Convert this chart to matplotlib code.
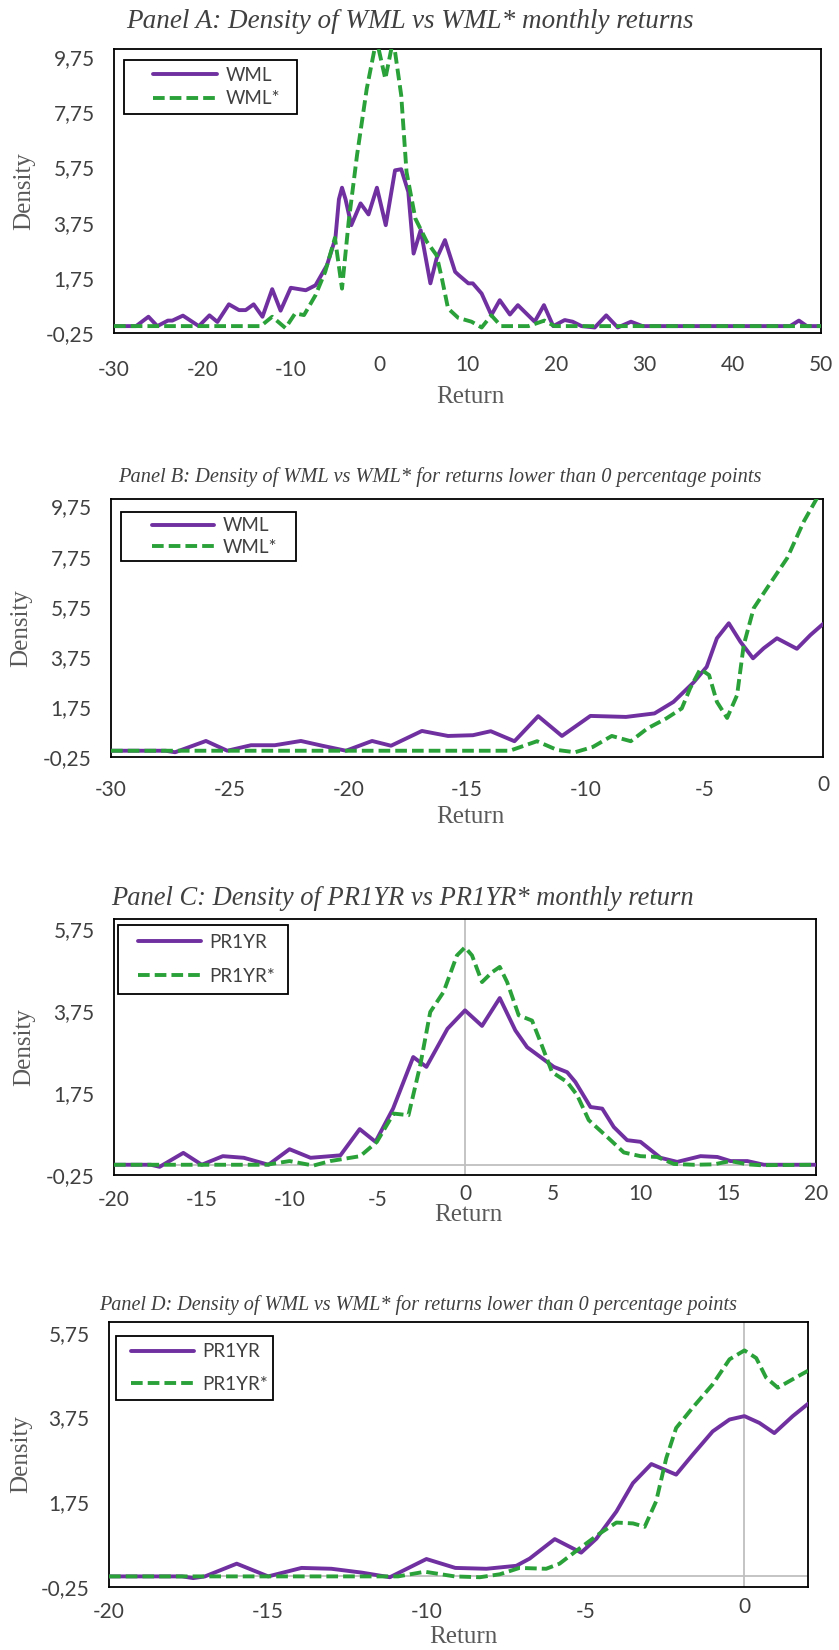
import matplotlib
matplotlib.use('Agg')
import matplotlib.pyplot as plt
from matplotlib.lines import Line2D
from matplotlib.legend_handler import HandlerLine2D
from matplotlib.transforms import ScaledTranslation

# ---------------- data ----------------
# Panel A: WML vs WML* monthly returns
a_wml_x = [-30, -27.5, -26.1, -25.1, -23.9, -23.4, -22.2, -20.4, -19.2, -18.3, -17.0, -15.85, -15.1,
           -14.2, -13.2, -12.1, -11.15, -10.0, -8.3, -7.2, -5.9, -4.95, -4.55, -4.2, -3.8, -3.15,
           -2.1, -1.2, -0.25, 0.75, 1.8, 2.5, 3.3, 3.9, 4.7, 5.8, 6.5, 7.45, 8.6, 9.0, 10.1, 10.6,
           11.6, 12.7, 13.65, 14.8, 15.7, 17.6, 18.65, 19.7, 21.0, 21.9, 22.9, 24.4, 25.7, 27.0,
           28.5, 29.8, 46.5, 47.5, 48.4, 50]
a_wml_y = [0, 0, 0.34, 0, 0.2, 0.2, 0.38, 0, 0.39, 0.15, 0.79, 0.58, 0.58,
           0.79, 0.34, 1.34, 0.56, 1.39, 1.30, 1.48, 2.21, 3.18, 4.6, 5.02, 4.6, 3.66,
           4.45, 4.05, 5.02, 3.66, 5.65, 5.69, 4.87, 2.63, 3.48, 1.55, 2.45, 3.12, 1.97, 1.85, 1.55, 1.55,
           1.18, 0.40, 0.94, 0.42, 0.76, 0.16, 0.76, 0, 0.22, 0.16, 0, -0.05, 0.39, -0.05,
           0.16, 0, 0, 0.2, 0, 0]
a_star_x = [-30, -13.4, -12.1, -10.6, -9.5, -8.5, -7.2, -6.1, -5.0, -4.2, -3.45, -2.5, -1.4, -0.3,
            0.7, 1.6, 2.5, 3.1, 4.1, 5.4, 6.5, 7.1, 7.8, 8.95, 10.45, 11.6, 12.7, 13.8, 16.9, 18.7,
            19.85, 50]
a_star_y = [0, 0, 0.34, -0.07, 0.46, 0.40, 1.12, 1.97, 3.2, 1.36, 3.78, 6.2, 8.61, 10.4,
            8.97, 10.4, 8.37, 5.59, 3.9, 3.06, 2.57, 1.73, 0.64, 0.3, 0.16, -0.05, 0.39, 0, 0, 0.2,
            0, 0]

# Panel B: WML vs WML*, returns below 0
b_wml_x = [-30, -27.7, -27.3, -26.0, -25.1, -24.1, -23.1, -22.0, -21.1, -20.1, -19.0, -18.2, -16.9,
           -15.8, -14.75, -14.0, -13.0, -12.0, -11.0, -9.8, -8.3, -7.1, -6.3, -5.45, -4.9, -4.47,
           -3.97, -3.48, -2.95, -2.5, -1.94, -1.1, -0.53, 0]
b_wml_y = [0, 0, -0.06, 0.39, 0, 0.22, 0.22, 0.39, 0.2, 0, 0.39, 0.2, 0.79,
           0.59, 0.62, 0.78, 0.38, 1.38, 0.59, 1.39, 1.35, 1.49, 1.95, 2.73, 3.35, 4.49,
           5.09, 4.35, 3.69, 4.09, 4.49, 4.07, 4.62, 5.06]
b_star_x = [-30, -13.2, -12.05, -11.2, -10.45, -9.7, -8.9, -8.1, -7.4, -6.6, -5.95, -5.6, -5.17,
            -4.8, -4.47, -4.04, -3.62, -3.34, -2.92, -2.36, -1.51, -0.81, -0.25, 0]
b_star_y = [0, 0, 0.38, 0.03, -0.06, 0.15, 0.59, 0.38, 0.89, 1.29, 1.69, 2.49, 3.26,
            3.02, 1.95, 1.31, 2.22, 4.22, 5.69, 6.49, 7.69, 9.15, 10.09, 10.5]

# Panel C: PR1YR vs PR1YR* monthly return
c_pr_x = [-20, -17.9, -17.4, -16.05, -15.0, -13.8, -12.6, -11.2, -10.0, -8.8, -7.1, -6.0, -5.1,
          -4.1, -2.95, -2.2, -1.0, 0, 0.97, 1.98, 2.87, 3.54, 4.3, 5.06, 5.82, 6.29, 7.15, 7.82,
          8.48, 9.24, 10.0, 11.14, 12.09, 13.42, 14.38, 15.13, 16.09, 17.03, 20]
c_pr_y = [0, 0, -0.05, 0.29, 0, 0.21, 0.17, 0, 0.38, 0.17, 0.23, 0.87, 0.56,
          1.37, 2.63, 2.39, 3.32, 3.77, 3.39, 4.07, 3.28, 2.87, 2.63, 2.39, 2.26, 2.02, 1.41, 1.37,
          0.92, 0.6, 0.56, 0.17, 0.07, 0.21, 0.19, 0.09, 0.09, 0, 0]
c_star_x = [-20, -11.3, -10.0, -8.64, -7.68, -5.97, -5.02, -4.07, -3.22, -2.55, -1.98, -1.22, -0.46,
            0, 0.4, 0.97, 1.54, 1.98, 2.4, 3.06, 3.82, 4.3, 4.96, 5.82, 6.39, 7.05, 8.1, 9.05, 10.0,
            10.95, 11.9, 13.04, 14.18, 15.13, 16.09, 16.8, 20]
c_star_y = [0, 0, 0.09, -0.02, 0.09, 0.21, 0.56, 1.25, 1.21, 2.43, 3.73, 4.22, 5.11,
            5.31, 5.11, 4.46, 4.7, 4.83, 4.46, 3.65, 3.52, 3.0, 2.26, 2.02, 1.7, 1.09, 0.68, 0.3, 0.21,
            0.19, 0.02, 0, 0.01, 0.09, 0.01, -0.01, 0]

# Panel D: PR1YR vs PR1YR*, returns below 0
d_pr_x = [-20, -17.7, -17.35, -16.98, -15.98, -14.99, -13.94, -13.0, -12.05, -11.16, -10.01, -9.1,
          -8.12, -7.18, -6.76, -5.97, -5.14, -4.66, -4.03, -3.51, -2.93, -2.15, -1.63, -1.0, -0.47,
          0, 0.47, 0.94, 1.52, 2.0]
d_pr_y = [0, 0, -0.04, 0, 0.30, 0, 0.2, 0.18, 0.09, -0.02, 0.41, 0.2,
          0.18, 0.25, 0.42, 0.88, 0.56, 0.89, 1.53, 2.2, 2.65, 2.4, 2.87, 3.42, 3.7,
          3.78, 3.62, 3.38, 3.78, 4.07]
d_star_x = [-20, -10.9, -10.06, -9.12, -8.33, -7.7, -7.08, -6.24, -5.82, -5.19, -4.56, -4.03, -3.51,
            -3.14, -2.78, -2.46, -2.15, -1.63, -1.0, -0.47, 0, 0.37, 0.68, 1.05, 1.52, 2.0]
d_star_y = [0, 0, 0.11, 0, -0.02, 0.05, 0.2, 0.18, 0.30, 0.66, 1.01, 1.27, 1.25,
            1.17, 1.77, 2.79, 3.5, 3.98, 4.53, 5.12, 5.33, 5.15, 4.69, 4.45, 4.65, 4.85]

titles = ['Panel A: Density of WML vs WML* monthly returns',
          'Panel B: Density of WML vs WML* for returns lower than 0 percentage points',
          'Panel C: Density of PR1YR vs PR1YR* monthly return',
          'Panel D: Density of WML vs WML* for returns lower than 0 percentage points']
yticks_wml = [-0.25, 1.75, 3.75, 5.75, 7.75, 9.75]
yticks_pr = [-0.25, 1.75, 3.75, 5.75]

PURPLE = '#7030A0'
GREEN = '#2BA13A'
GREY_TXT = '#595959'
DARK_TXT = '#404040'
W, H = 839, 1650

fig = plt.figure(figsize=(W / 100, H / 100), dpi=100)


class PadLine(HandlerLine2D):
    # legend line that starts a bit right of the frame
    def __init__(self, pad, **kw):
        super().__init__(**kw)
        self.pad = pad

    def create_artists(self, legend, orig_handle, xdescent, ydescent, width, height, fontsize, trans):
        p = self.pad * fontsize
        return super().create_artists(legend, orig_handle, xdescent - p, ydescent,
                                      width - p, height, fontsize, trans)


def panel(box, xs, ys, labels, xlim, xticks, ylim, yticks, title, tfs, tpos, ylab_x, ret_pos,
          xpad, negshift, leg, zero_lines=False):
    l, t, r, b = box
    ax = fig.add_axes([l / W, 1 - b / H, (r - l) / W, (b - t) / H])
    if zero_lines:
        ax.axhline(0, color='#BFBFBF', lw=1.3, zorder=1)
        ax.axvline(0, color='#BFBFBF', lw=1.3, zorder=1)
    h1, = ax.plot(xs[0], ys[0], color=PURPLE, lw=2.8, solid_joinstyle='round',
                  solid_capstyle='round', label=labels[0], zorder=3)
    h2, = ax.plot(xs[1], ys[1], color=GREEN, lw=2.8, dashes=(3, 1.3), label=labels[1], zorder=4)
    ax.set_xlim(*xlim)
    ax.set_ylim(*ylim)
    for s in ax.spines.values():
        s.set_color('black')
        s.set_linewidth(1.3)
    ax.tick_params(length=0, labelsize=15, labelcolor=DARK_TXT)
    ax.tick_params(axis='x', pad=xpad)
    ax.tick_params(axis='y', pad=14)
    ax.set_xticks(xticks, labels=[str(v) for v in xticks])
    ax.set_yticks(yticks, labels=[f'{v:.2f}'.replace('.', ',') for v in yticks])
    for lab in ax.get_xticklabels() + ax.get_yticklabels():
        lab.set_fontfamily(['Lato', 'DejaVu Sans'])
    off = ScaledTranslation(0, -negshift / 100, fig.dpi_scale_trans)
    for lab in ax.get_xticklabels():
        if lab.get_text().startswith('-'):
            lab.set_transform(lab.get_transform() + off)

    # legend: (left px, top px, right px, handlelength, pad, labelspacing, borderpad, fontsize)
    ll, lt, lr, hl, hp, lsp, bp, lfs = leg
    bx = (ll - l) / (r - l)
    by = 1 - (lt - t) / (b - t)
    lg = ax.legend(handles=[h1, h2], loc='upper left', bbox_to_anchor=(bx, by - 0.5, (lr - ll) / (r - l), 0.5),
                   mode='expand', borderaxespad=0, fancybox=False, framealpha=1, edgecolor='black',
                   prop={'family': ['Lato', 'DejaVu Sans'], 'size': lfs}, labelcolor=DARK_TXT,
                   handlelength=hl, handletextpad=0.45, labelspacing=lsp, borderpad=bp,
                   handler_map={Line2D: PadLine(hp)})
    lg.get_frame().set_linewidth(1.3)

    fig.text(tpos[0] / W, 1 - tpos[1] / H, title, ha='center', va='center', fontsize=tfs,
             family='Liberation Serif', style='italic', color=DARK_TXT)
    fig.text(ylab_x / W, 1 - (t + b) / 2 / H, 'Density', rotation=90, ha='center', va='center',
             fontsize=18, family='Liberation Serif', color=GREY_TXT)
    fig.text(ret_pos[0] / W, 1 - ret_pos[1] / H, 'Return', ha='center', va='center',
             fontsize=18, family='Liberation Serif', color=GREY_TXT)
    return ax


panel((114, 49, 821, 333), [a_wml_x, a_star_x], [a_wml_y, a_star_y], ['WML', 'WML*'],
      (-30, 50), list(range(-30, 51, 10)), (-0.25, 10.05), yticks_wml, titles[0], 19.5, (410, 22),
      24, (470, 397), 16, 5, (124, 60, 297, 4.6, 1.2, 0.35, 0.36, 13.5))
panel((111, 499, 823, 757), [b_wml_x, b_star_x], [b_wml_y, b_star_y], ['WML', 'WML*'],
      (-30, 0), list(range(-30, 1, 5)), (-0.25, 10.05), yticks_wml, titles[1], 14.7, (440, 477),
      21.5, (470, 817), 13.2, 5, (121, 512, 296, 4.7, 1.38, 0.26, 0.27, 13.5))
panel((114, 919, 816, 1175), [c_pr_x, c_star_x], [c_pr_y, c_star_y], ['PR1YR', 'PR1YR*'],
      (-20, 20), list(range(-20, 21, 5)), (-0.25, 6.0), yticks_pr, titles[2], 19.1, (402, 899),
      24, (468, 1215), 6.8, 6, (118, 925, 288, 3.95, 0.62, 0.91, 0.47, 13.5), zero_lines=True)
panel((109, 1322, 808, 1587), [d_pr_x, d_star_x], [d_pr_y, d_star_y], ['PR1YR', 'PR1YR*'],
      (-20, 2), list(range(-20, 1, 5)), (-0.25, 6.0), yticks_pr, titles[3], 14.5, (418, 1305),
      21.5, (463, 1637), 7.5, 5, (116, 1336, 273, 3.75, 0.4, 0.82, 0.39, 13.5), zero_lines=True)

fig.savefig('out.png', dpi=100)
